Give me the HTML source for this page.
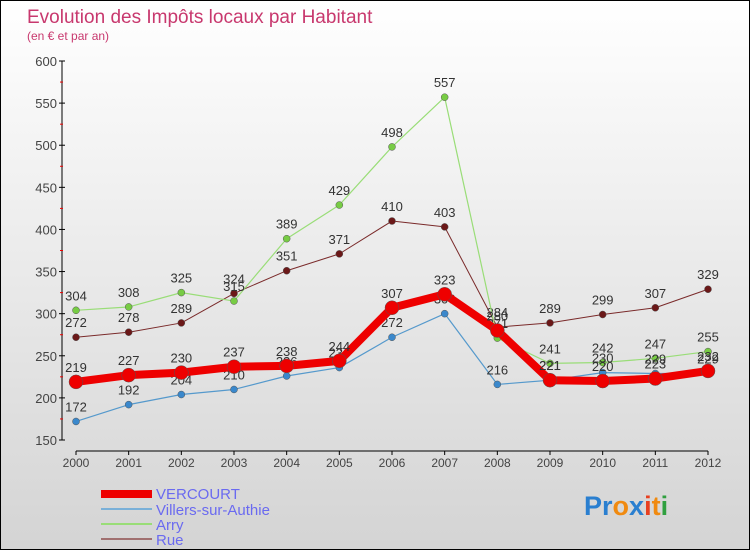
<!DOCTYPE html>
<html><head><meta charset="utf-8"><style>
body{margin:0;}
#wrap{position:relative;width:748px;height:548px;border:1px solid #000;background:linear-gradient(#fff,#d4d4d4);font-family:"Liberation Sans",sans-serif;overflow:hidden}
</style></head><body>
<div id="wrap">
<svg id="chart" width="748" height="548">
<text x="26" y="22" font-size="19" fill="#c8386e">Evolution des Impôts locaux par Habitant</text>
<text x="26" y="39" font-size="12" fill="#c8386e">(en € et par an)</text>
<g id="axes"></g><g id="series"></g>
<g>
<rect x="100" y="489" width="51" height="8" fill="#e00"/>
<text x="155" y="498" font-size="15" fill="#6a6af0">VERCOURT</text>
<rect x="100" y="507" width="51" height="2" fill="#7ab0d8"/>
<text x="155" y="514" font-size="15" fill="#6a6af0">Villers-sur-Authie</text>
<rect x="100" y="522" width="51" height="2" fill="#99dd77"/>
<text x="155" y="529" font-size="15" fill="#6a6af0">Arry</text>
<rect x="100" y="537" width="51" height="2" fill="#a07070"/>
<text x="155" y="544" font-size="15" fill="#6a6af0">Rue</text>
</g>
<text x="583" y="514" font-size="27" font-weight="bold"><tspan fill="#2a7fd0">Pr</tspan><tspan fill="#f08a10">o</tspan><tspan fill="#2a7fd0">x</tspan><tspan fill="#e84020">i</tspan><tspan fill="#f08a10">t</tspan><tspan fill="#30a040">i</tspan></text>
</svg>
</div>
<script>
const years=[2000,2001,2002,2003,2004,2005,2006,2007,2008,2009,2010,2011,2012];
const yTicks=[150,200,250,300,350,400,450,500,550,600];
const vercourt=[219,227,230,237,238,244,307,323,280,221,220,223,232];
const villers=[172,192,204,210,226,236,272,300,216,221,230,229,229];
const arry=[304,308,325,315,389,429,498,557,271,241,242,247,255];
const rue=[272,278,289,324,351,371,410,403,284,289,299,307,329];
const NS="http://www.w3.org/2000/svg";
const X=i=>75+i*(632/12);
const Y=v=>439-(v-150)*(379/450);
function mk(t,a,p){const e=document.createElementNS(NS,t);for(const k in a)e.setAttribute(k,a[k]);p.appendChild(e);return e;}
const ax=document.getElementById('axes');
let yl=mk('line',{x1:61,y1:Y(600),x2:61,y2:Y(150),stroke:'#000'},ax);


yTicks.forEach((v,i)=>{
 mk('line',{x1:58,y1:Y(v),x2:64,y2:Y(v),stroke:'#000'},ax);
 const t=mk('text',{x:56,y:Y(v)+5,'font-size':13,fill:'#444','text-anchor':'end'},ax);
 t.textContent=v;
 
 
 if(i<yTicks.length-1) mk('line',{x1:59,y1:Y(v+25),x2:62,y2:Y(v+25),stroke:'#e00'},ax);
});
let xl=mk('line',{x1:X(0),y1:450,x2:X(12),y2:450,stroke:'#000'},ax);


years.forEach((y,i)=>{
 mk('line',{x1:X(i),y1:450,x2:X(i),y2:454,stroke:'#000'},ax);
 const t=mk('text',{x:X(i),y:466,'font-size':12,fill:'#444','text-anchor':'middle'},ax);
 t.textContent=y;
 
 
});
const sg=document.getElementById('series');
function draw(vals,color,w,r,name,dot){
 const g=mk('g',{},sg);
 
 
 mk('polyline',{points:vals.map((v,i)=>X(i)+','+Y(v)).join(' '),fill:'none',stroke:color,'stroke-width':w,'stroke-linejoin':'round'},g);
 vals.forEach((v,i)=>{
  const c=mk('circle',{cx:X(i),cy:Y(v),r:r,fill:dot,stroke:'#555','stroke-width':0.5},g);
  
  
  const t=mk('text',{x:X(i),y:Y(v)-10,'font-size':13,fill:'#333','text-anchor':'middle'},g);
  t.textContent=v;
  
  
 });
}
draw(rue,'#7a2a2a',1,3.5,'rue','#6b1818');
draw(arry,'#99dd77',1.2,3.5,'arry','#77cc44');
draw(villers,'#5599cc',1.2,3.5,'villers','#3a88cc');
draw(vercourt,'#ee0000',8,7,'vercourt','#ee0000');
</script>
</body></html>
